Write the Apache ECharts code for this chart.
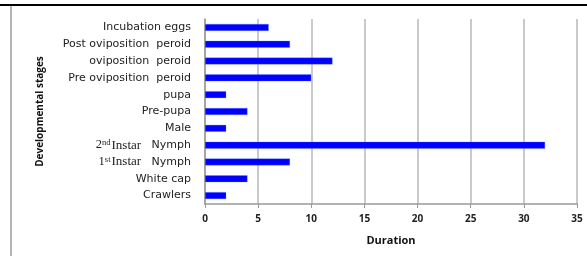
<!DOCTYPE html>
<html>
<head>
<meta charset="utf-8">
<script src="https://cdn.jsdelivr.net/npm/echarts@6/dist/echarts.min.js"></script>
<style>
    html, body { margin: 0; padding: 0; background: #fff; }
    #frame { position: relative; width: 587px; height: 256px; overflow: hidden; }
    #topline { position: absolute; left: 0; right: 0; top: 4px; height: 2px; background: #000; }
    #leftline { position: absolute; left: 10px; top: 6px; bottom: 0; width: 2px; background: #b5b5b5; }
    #chart { position: absolute; left: 0; top: 0; width: 587px; height: 256px; }
</style>
</head>
<body>
<div id="frame">
    <div id="chart"></div>
    <div id="topline"></div>
    <div id="leftline"></div>
</div>
<script>
// stages, top to bottom as in the figure
const stages = [
    'Incubation eggs',
    'Post oviposition  peroid',
    'oviposition  peroid',
    'Pre oviposition  peroid',
    'pupa',
    'Pre-pupa',
    'Male',
    '{n|2}{sup|nd}{s|Instar}   Nymph',
    '{n|1}{sup|st}{s|Instar}   Nymph',
    'White cap',
    'Crawlers'
]
const duration = [6, 8, 12, 10, 2, 4, 2, 32, 8, 4, 2]
const xTicks = [0, 5, 10, 15, 20, 25, 30, 35]

const myChart = echarts.init(document.getElementById('chart'))
const option = {
    animation: false,
    grid: { left: 205, right: 10, top: 19, bottom: 52, containLabel: false },
    xAxis: {
        type: 'value',
        min: xTicks[0],
        max: xTicks[xTicks.length - 1],
        interval: 5,
        name: 'Duration',
        nameLocation: 'middle',
        nameGap: 31,
        nameTextStyle: { fontFamily: 'Open Sans', fontWeight: 'bold', fontSize: 11, color: '#111' },
        axisLine: { show: true, lineStyle: { color: '#999', width: 1.5 } },
        axisTick: { show: true, length: 4, lineStyle: { color: '#999' } },
        axisLabel: { fontFamily: 'Open Sans', fontWeight: 'bold', fontSize: 10, color: '#222', margin: 10 },
        splitLine: { show: true, lineStyle: { color: '#b8b8b8', width: 1.5 } }
    },
    yAxis: {
        type: 'category',
        data: stages,
        inverse: true,
        name: 'Developmental stages',
        nameLocation: 'middle',
        nameRotate: 90,
        nameGap: 160,
        nameTextStyle: { fontFamily: 'Open Sans', fontWeight: 'bold', fontSize: 10, color: '#111' },
        axisLine: { show: true, lineStyle: { color: '#999', width: 1.5 } },
        axisTick: { show: false },
        axisLabel: {
            fontFamily: 'DejaVu Sans',
            fontSize: 11,
            color: '#222',
            margin: 14,
            rich: {
                n: { fontFamily: 'Liberation Serif', fontSize: 12.5, color: '#222' },
                sup: { fontFamily: 'Liberation Serif', fontSize: 8.5, color: '#222', verticalAlign: 'top', padding: [0, 1, 5, 0] },
                s: { fontFamily: 'Liberation Serif', fontSize: 13, color: '#222' }
            }
        }
    },
    series: [{
        type: 'bar',
        data: duration,
        barWidth: 7,
        itemStyle: { color: '#0000ff', borderColor: 'rgba(90,140,255,0.6)', borderWidth: 0.5 }
    }]
}
myChart.setOption(option)
</script>
</body>
</html>
